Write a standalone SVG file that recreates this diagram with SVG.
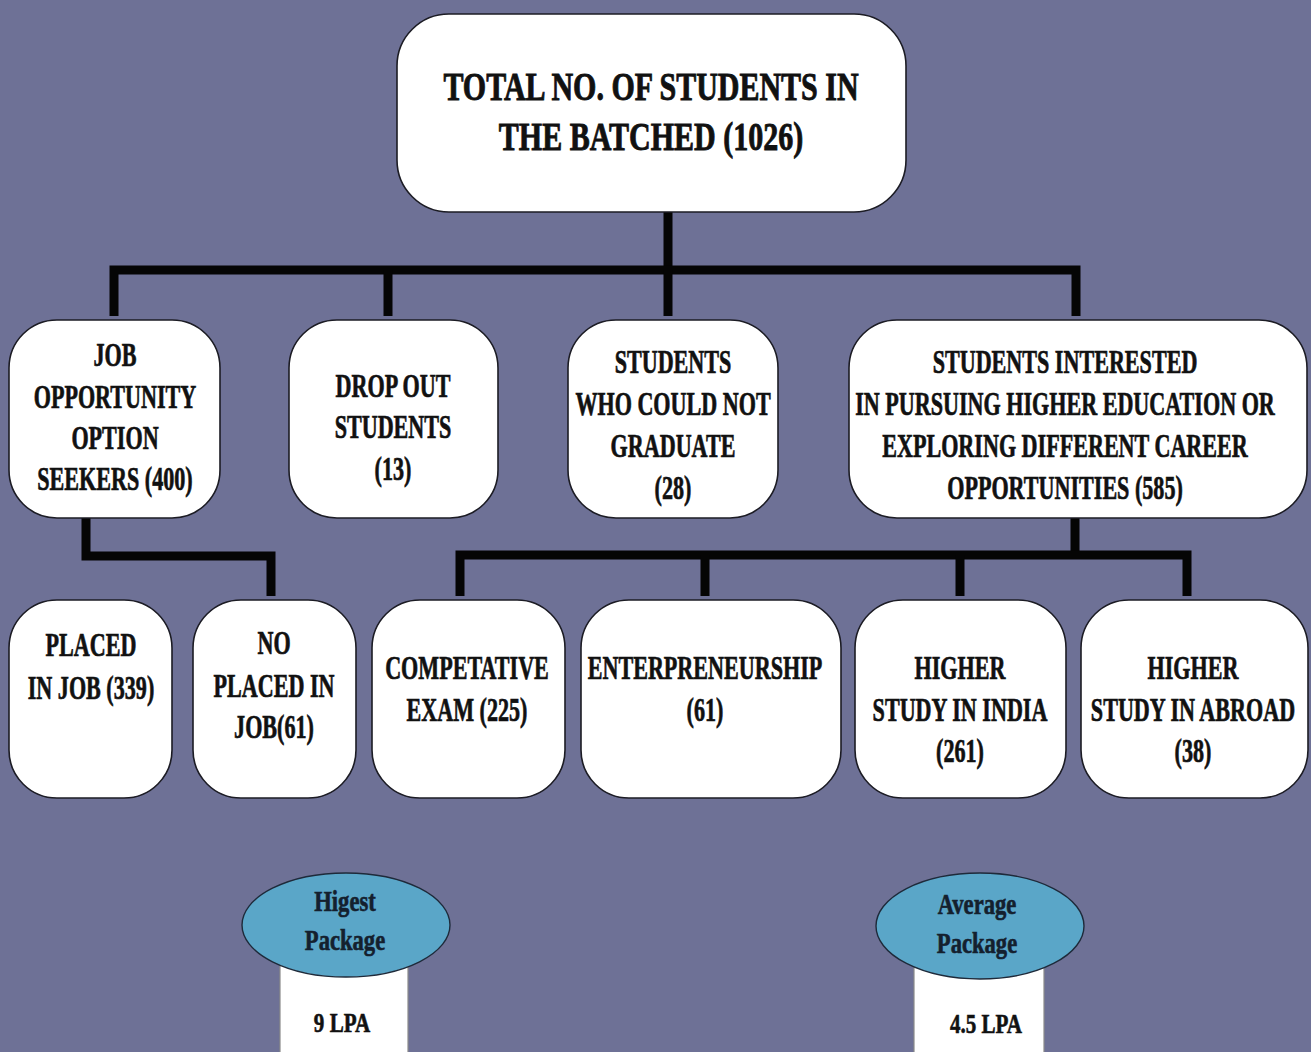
<svg xmlns="http://www.w3.org/2000/svg" width="1311" height="1052" viewBox="0 0 1311 1052">
<style>
.box{fill:#ffffff;stroke:#1c1c24;stroke-width:1.6}
.t{font-family:'Liberation Serif','Times New Roman',serif;font-weight:bold;font-size:33px;text-anchor:middle;fill:#111111;stroke:#111111;stroke-width:0.7}
.tt{font-size:40px;stroke-width:0.9}
.conn{fill:none;stroke:#050505;stroke-width:9;stroke-linejoin:miter;stroke-linecap:butt}
.ell{fill:#5aa6c8;stroke:#1e2a3a;stroke-width:1.4}
.pkg{fill:#ffffff;stroke:#8a8a8a;stroke-width:1.2}
.e{font-family:'Liberation Serif','Times New Roman',serif;font-weight:bold;font-size:29px;text-anchor:middle;fill:#14202e;stroke:#14202e;stroke-width:0.6}
.v{font-family:'Liberation Serif','Times New Roman',serif;font-weight:bold;font-size:27px;text-anchor:middle;fill:#111111;stroke:#111111;stroke-width:0.6}
</style>
<rect width="1311" height="1052" fill="#6e7196"/>
<g id="connectors">
<path class="conn" d="M668 212 V270"/>
<path class="conn" d="M114 316 V270 H1076 V316"/>
<path class="conn" d="M388 270 V316"/>
<path class="conn" d="M668 270 V316"/>
<path class="conn" d="M86 518 V556 H271 V596"/>
<path class="conn" d="M1075 518 V555"/>
<path class="conn" d="M460 596 V555 H1187 V596"/>
<path class="conn" d="M705 555 V596"/>
<path class="conn" d="M960 555 V596"/>
</g>
<g id="total">
<rect class="box" x="397" y="14" width="509" height="198" rx="52"/>
<text class="t tt" transform="translate(651,0) scale(0.75,1)"><tspan x="0" y="100">TOTAL NO. OF STUDENTS IN</tspan><tspan x="0" y="150">THE BATCHED (1026)</tspan></text>
</g>
<g id="job-seekers">
<rect class="box" x="9" y="320" width="211" height="198" rx="48"/>
<text class="t" transform="translate(115,0) scale(0.67,1)"><tspan x="0" y="366">JOB</tspan><tspan x="0" y="408">OPPORTUNITY</tspan><tspan x="0" y="449">OPTION</tspan><tspan x="0" y="490">SEEKERS (400)</tspan></text>
</g>
<g id="dropout">
<rect class="box" x="289" y="320" width="209" height="198" rx="48"/>
<text class="t" transform="translate(393,0) scale(0.67,1)"><tspan x="0" y="397">DROP OUT</tspan><tspan x="0" y="438">STUDENTS</tspan><tspan x="0" y="480">(13)</tspan></text>
</g>
<g id="not-graduate">
<rect class="box" x="568" y="320" width="210" height="198" rx="48"/>
<text class="t" transform="translate(673,0) scale(0.67,1)"><tspan x="0" y="373">STUDENTS</tspan><tspan x="0" y="415">WHO COULD NOT</tspan><tspan x="0" y="457">GRADUATE</tspan><tspan x="0" y="499">(28)</tspan></text>
</g>
<g id="higher-ed">
<rect class="box" x="849" y="320" width="458" height="198" rx="48"/>
<text class="t" transform="translate(1065,0) scale(0.67,1)"><tspan x="0" y="373">STUDENTS INTERESTED</tspan><tspan x="0" y="415">IN PURSUING HIGHER EDUCATION OR</tspan><tspan x="0" y="457">EXPLORING DIFFERENT CAREER</tspan><tspan x="0" y="499">OPPORTUNITIES (585)</tspan></text>
</g>
<g id="placed">
<rect class="box" x="9" y="600" width="163" height="198" rx="48"/>
<text class="t" transform="translate(91,0) scale(0.67,1)"><tspan x="0" y="656">PLACED</tspan><tspan x="0" y="699">IN JOB (339)</tspan></text>
</g>
<g id="not-placed">
<rect class="box" x="193" y="600" width="163" height="198" rx="48"/>
<text class="t" transform="translate(274,0) scale(0.67,1)"><tspan x="0" y="654">NO</tspan><tspan x="0" y="697">PLACED IN</tspan><tspan x="0" y="738">JOB(61)</tspan></text>
</g>
<g id="competitive">
<rect class="box" x="372" y="600" width="193" height="198" rx="48"/>
<text class="t" transform="translate(467,0) scale(0.67,1)"><tspan x="0" y="679">COMPETATIVE</tspan><tspan x="0" y="721">EXAM (225)</tspan></text>
</g>
<g id="entrepreneurship">
<rect class="box" x="581" y="600" width="260" height="198" rx="48"/>
<text class="t" transform="translate(705,0) scale(0.67,1)"><tspan x="0" y="679">ENTERPRENEURSHIP</tspan><tspan x="0" y="721">(61)</tspan></text>
</g>
<g id="study-india">
<rect class="box" x="855" y="600" width="211" height="198" rx="48"/>
<text class="t" transform="translate(960,0) scale(0.67,1)"><tspan x="0" y="679">HIGHER</tspan><tspan x="0" y="721">STUDY IN INDIA</tspan><tspan x="0" y="762">(261)</tspan></text>
</g>
<g id="study-abroad">
<rect class="box" x="1081" y="600" width="227" height="198" rx="48"/>
<text class="t" transform="translate(1193,0) scale(0.67,1)"><tspan x="0" y="679">HIGHER</tspan><tspan x="0" y="721">STUDY IN ABROAD</tspan><tspan x="0" y="762">(38)</tspan></text>
</g>
<g id="highest-package">
<rect class="pkg" x="280" y="950" width="128" height="110"/>
<ellipse class="ell" cx="346" cy="925" rx="104" ry="52"/>
<text class="e" transform="translate(345,0) scale(0.78,1)"><tspan x="0" y="911">Higest</tspan><tspan x="0" y="950">Package</tspan></text>
<text class="v" transform="translate(342,0) scale(0.78,1)"><tspan x="0" y="1032">9 LPA</tspan></text>
</g>
<g id="average-package">
<rect class="pkg" x="914" y="950" width="130" height="110"/>
<ellipse class="ell" cx="980" cy="926" rx="104" ry="53"/>
<text class="e" transform="translate(977,0) scale(0.78,1)"><tspan x="0" y="914">Average</tspan><tspan x="0" y="953">Package</tspan></text>
<text class="v" transform="translate(986,0) scale(0.78,1)"><tspan x="0" y="1033">4.5 LPA</tspan></text>
</g>
</svg>
